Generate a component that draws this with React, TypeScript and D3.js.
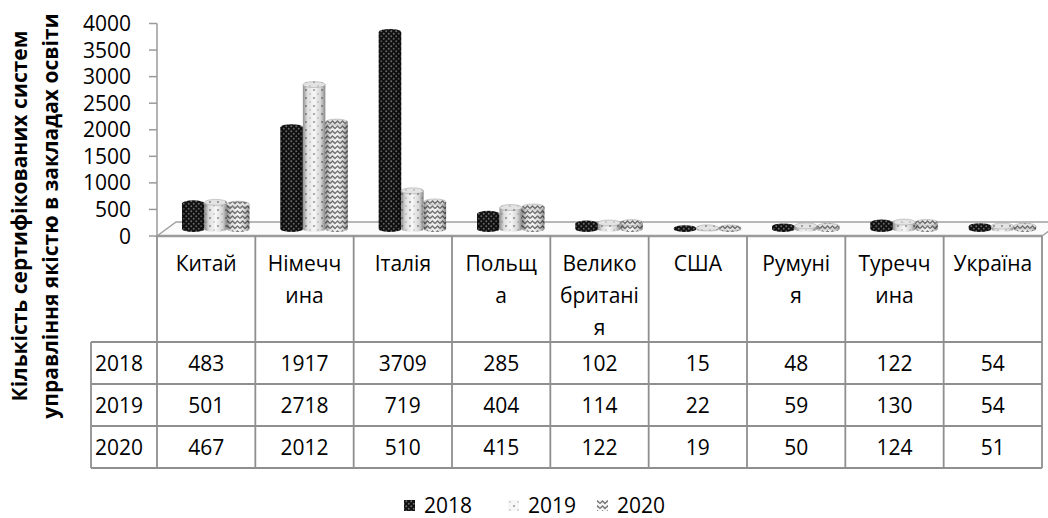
import React from "react";
import * as d3 from "d3";

const categories = ["Китай", "Німеччина", "Італія", "Польща", "Великобританія", "США", "Румунія", "Туреччина", "Україна"];
const categoryLabelLines = [["Китай"], ["Німечч", "ина"], ["Італія"], ["Польщ", "а"], ["Велико", "британі", "я"], ["США"], ["Румуні", "я"], ["Туречч", "ина"], ["Україна"]];
const years = ["2018", "2019", "2020"];
const values2018 = [483, 1917, 3709, 285, 102, 15, 48, 122, 54];
const values2019 = [501, 2718, 719, 404, 114, 22, 59, 130, 54];
const values2020 = [467, 2012, 510, 415, 122, 19, 50, 124, 51];
const seriesValues = [values2018, values2019, values2020];
const yTickValues = [0, 500, 1000, 1500, 2000, 2500, 3000, 3500, 4000];
const titleLines = ["Кількість сертифікованих систем", "управління якістю в закладах освіти"];

const W = 1048, H = 518;
const FONT = "'Open Sans', 'Noto Sans', sans-serif";
const GRID = "#8f8f8f";
const FS = 21;

export default function App() {
  const x = d3.scaleBand<string>().domain(categories).range([157, 1042]).paddingInner(0).paddingOuter(0);
  const bw = x.bandwidth();
  const xs = d3.scaleBand<string>().domain(years).range([bw * 0.255, bw * 0.94]).padding(0);
  const y = d3.scaleLinear().domain([0, 4000]).range([236, 23.5]);
  const depthDx = 19, depthDy = -14;
  const barShift = -7;
  const ry = 3;
  const patterns = ["p2018", "p2019", "p2020"];

  const headerTop = y(0);
  const rowTops = [342, 384, 426, 468];
  const tableLeft = 91;
  const tableRight = x.range()[1];

  return (
    <svg width={W} height={H} style={{ display: "block", position: "absolute", left: 0, top: 0 }} fontFamily={FONT}>
      <defs>
        <pattern id="p2018" width="5" height="5" patternUnits="userSpaceOnUse">
          <rect width="5" height="5" fill="#111" />
          <circle cx="1.25" cy="1.25" r="0.95" fill="#6e6e6e" />
          <circle cx="3.75" cy="3.75" r="0.95" fill="#6e6e6e" />
        </pattern>
        <pattern id="p2019" width="8" height="8" patternUnits="userSpaceOnUse">
          <rect width="8" height="8" fill="#f7f7f7" />
          <circle cx="2" cy="2" r="0.9" fill="#8a8a8a" />
          <circle cx="6" cy="6" r="0.8" fill="#b4b4b4" />
        </pattern>
        <pattern id="p2020" width="10" height="5" patternUnits="userSpaceOnUse">
          <rect width="10" height="5" fill="#f6f6f6" />
          <path d="M0,3.5 L2.5,1 L5,3.5 L7.5,1 L10,3.5" stroke="#777" strokeWidth="1.4" fill="none" />
        </pattern>
        <linearGradient id="shade" x1="0" x2="1" y1="0" y2="0">
          <stop offset="0" stopColor="#000" stopOpacity="0.42" />
          <stop offset="0.2" stopColor="#000" stopOpacity="0.1" />
          <stop offset="0.5" stopColor="#000" stopOpacity="0" />
          <stop offset="0.8" stopColor="#000" stopOpacity="0.14" />
          <stop offset="1" stopColor="#000" stopOpacity="0.45" />
        </linearGradient>
      </defs>

      {/* Title */}
      {titleLines.map((t, i) => (
        <text key={i} transform={`translate(${27 + i * 31},${216}) rotate(-90)`} textAnchor="middle" fontWeight="bold" fontSize={FS} fill="#000">{t}</text>
      ))}

      {/* Floor */}
      <polygon
        points={`${x.range()[0]},${y(0)} ${x.range()[0] + depthDx},${y(0) + depthDy} ${tableRight + depthDx},${y(0) + depthDy} ${tableRight},${y(0)}`}
        fill="#fbfbfb" stroke="#a0a0a0" strokeWidth={1.5} />
      <line x1={x.range()[0]} x2={tableRight} y1={y(0)} y2={y(0)} stroke="#9a9a9a" strokeWidth={2.5} />

      {/* Y axis */}
      <line x1={157} x2={157} y1={y(4000)} y2={y(0)} stroke="#9a9a9a" strokeWidth={1.5} />
      {yTickValues.map((t) => (
        <g key={t}>
          <line x1={149} x2={157} y1={y(t)} y2={y(t)} stroke="#9a9a9a" strokeWidth={1.5} />
          <text x={131} y={y(t)} dy="0.36em" textAnchor="end" fontSize={FS} fill="#000">{t}</text>
        </g>
      ))}

      {/* Bars */}
      {categories.map((c, ci) => (
        <g key={c}>
          {years.map((yr, si) => {
            const v = seriesValues[si][ci];
            const bx = (x(c) as number) + (xs(yr) as number);
            const w = xs.bandwidth();
            const base = y(0) + barShift;
            const top = y(v) + barShift;
            const cx = bx + w / 2;
            const body = `M${bx},${top} L${bx},${base} A${w / 2},${ry} 0 0 0 ${bx + w},${base} L${bx + w},${top} Z`;
            return (
              <g key={yr}>
                <path d={body} fill={`url(#${patterns[si]})`} />
                <path d={body} fill="url(#shade)" />
                <ellipse cx={cx} cy={top} rx={w / 2} ry={ry} fill={`url(#${patterns[si]})`} />
                <ellipse cx={cx} cy={top} rx={w / 2} ry={ry} fill="#000" fillOpacity={si === 0 ? 0 : 0.08} stroke="#999" strokeOpacity={si === 0 ? 0 : 0.6} strokeWidth={0.8} />
              </g>
            );
          })}
        </g>
      ))}

      {/* Table */}
      <g stroke={GRID} strokeWidth={1.8}>
        {rowTops.map((ry2) => (
          <line key={ry2} x1={tableLeft} x2={tableRight} y1={ry2} y2={ry2} />
        ))}
        <line x1={tableLeft} x2={tableLeft} y1={rowTops[0]} y2={rowTops[3]} />
        {[...categories.map((c) => x(c) as number), tableRight].map((vx, i) => (
          <line key={i} x1={vx} x2={vx} y1={headerTop} y2={rowTops[3]} />
        ))}
      </g>
      {categories.map((c, ci) => (
        <g key={c}>
          {categoryLabelLines[ci].map((ln, li) => (
            <text key={li} x={(x(c) as number) + bw / 2} y={263 + li * 32} dy="0.36em" textAnchor="middle" fontSize={FS} fill="#000">{ln}</text>
          ))}
          {seriesValues.map((vals, si) => (
            <text key={si} x={(x(c) as number) + bw / 2} y={(rowTops[si] + rowTops[si + 1]) / 2} dy="0.36em" textAnchor="middle" fontSize={FS} fill="#000">{vals[ci]}</text>
          ))}
        </g>
      ))}
      {years.map((yr, si) => (
        <text key={yr} x={95} y={(rowTops[si] + rowTops[si + 1]) / 2} dy="0.36em" fontSize={FS} fill="#000">{yr}</text>
      ))}

      {/* Legend */}
      {years.map((yr, si) => {
        const lx = [404, 508, 597][si];
        return (
          <g key={yr}>
            <rect x={lx} y={500} width={11} height={11} fill={`url(#${patterns[si]})`} />
            <text x={lx + 20} y={513} fontSize={FS} fill="#000">{yr}</text>
          </g>
        );
      })}
    </svg>
  );
}
